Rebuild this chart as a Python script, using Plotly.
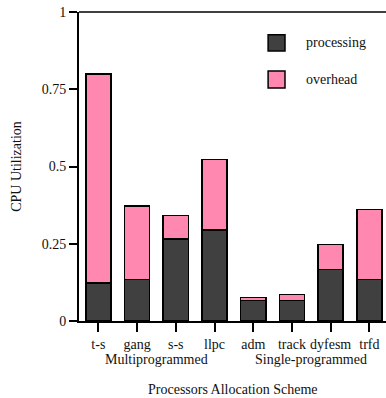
import plotly.graph_objects as go

categories = ["t-s", "gang", "s-s", "llpc", "adm", "track", "dyfesm", "trfd"]
processing = [0.123, 0.135, 0.265, 0.294, 0.067, 0.066, 0.167, 0.134]
total = [0.80, 0.372, 0.342, 0.523, 0.076, 0.085, 0.248, 0.361]
overhead = [t - p for t, p in zip(total, processing)]
groups = ["Multiprogrammed", "Single-programmed"]
group_centers = [1.5, 5.5]
yticks = [0, 0.25, 0.5, 0.75, 1]
yticklabels = ["0", "0.25", "0.5", "0.75", "1"]

DARK = "#404040"
PINK = "#ff88b0"
FONT = dict(family="Liberation Serif", size=14, color="#111")

xs = list(range(len(categories)))

fig = go.Figure()
fig.add_trace(go.Bar(x=xs, y=processing, name="processing", marker=dict(color=DARK, line=dict(color="black", width=1.5)), width=0.65))
fig.add_trace(go.Bar(x=xs, y=overhead, name="overhead", marker=dict(color=PINK, line=dict(color="black", width=1.5)), width=0.65))

fig.update_layout(
    barmode="stack",
    width=386, height=398,
    margin=dict(l=79, r=0, t=12, b=77),
    plot_bgcolor="white", paper_bgcolor="white",
    font=FONT,
    showlegend=False,
    xaxis=dict(
        range=[-0.5, 7.43], tickmode="array", tickvals=xs, ticktext=categories,
        showline=True, linecolor="black", linewidth=2,
        ticks="outside", ticklen=9, tickwidth=2, tickcolor="black",
        showgrid=False, zeroline=False, ticklabelstandoff=0,
    ),
    yaxis=dict(
        range=[0, 1], tickmode="array", tickvals=yticks, ticktext=yticklabels,
        showline=True, linecolor="black", linewidth=2,
        ticks="outside", ticklen=8, tickwidth=2, tickcolor="black",
        showgrid=False, zeroline=False,
        title=dict(text="CPU Utilization", font=FONT, standoff=17),
    ),
)

# top frame line
fig.add_shape(type="line", xref="paper", yref="paper", x0=0, x1=1, y0=1, y1=1,
              line=dict(color="black", width=1.5))

# group labels
for g, c in zip(groups, group_centers):
    fig.add_annotation(x=c, y=-0.125, xref="x", yref="paper", text=g, showarrow=False,
                       xanchor="center", yanchor="middle", font=FONT)

fig.add_annotation(x=0.5, y=-0.223, xref="paper", yref="paper", text="Processors Allocation Scheme",
                   showarrow=False, xanchor="center", yanchor="middle", font=FONT)

# legend
legend_items = [("processing", DARK, 0.874, 0.926), ("overhead", PINK, 0.754, 0.809)]
for name, col, y0, y1 in legend_items:
    fig.add_shape(type="rect", xref="paper", yref="paper", x0=0.616, x1=0.671, y0=y0, y1=y1,
                  fillcolor=col, line=dict(color="black", width=1.5))
    fig.add_annotation(x=0.733, y=(y0 + y1) / 2, xref="paper", yref="paper", text=name, showarrow=False,
                       xanchor="left", yanchor="middle", font=FONT)

fig.write_html("out.html")
